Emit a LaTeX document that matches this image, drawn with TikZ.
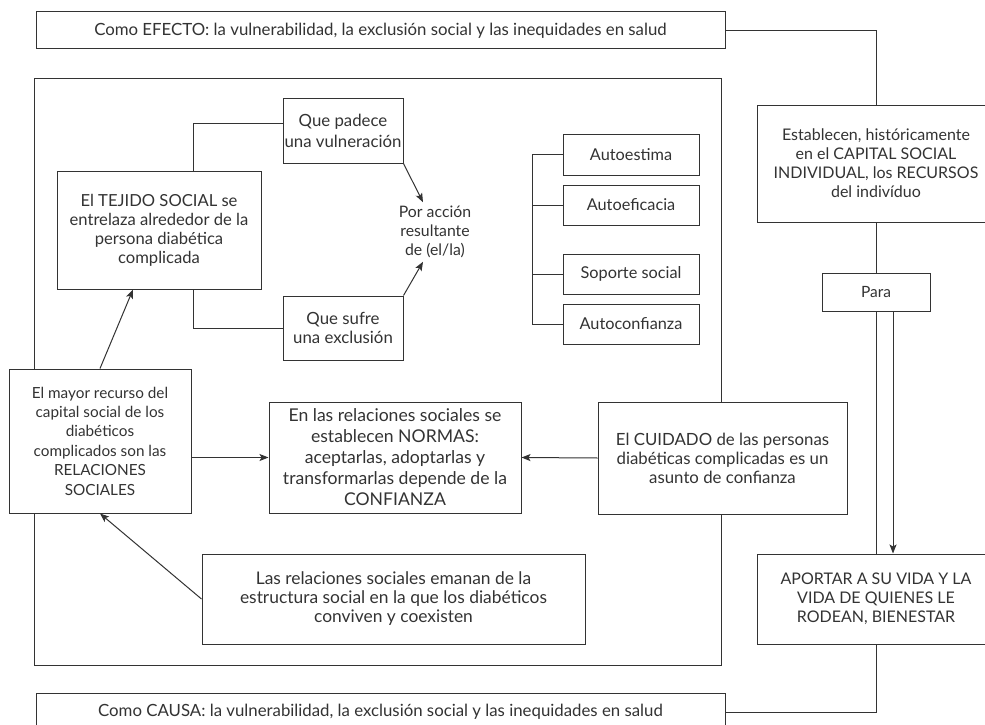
\documentclass[tikz,border=0pt]{standalone}
\usepackage{fontspec}
\setmainfont{Lato}
\usetikzlibrary{arrows.meta}
\newcommand{\letra}[1]{\fontsize{#1}{19}\selectfont}

\begin{document}
\begin{tikzpicture}[x = 1pt, y = -1pt, line width = 1pt, color = black!80, every node/.style = {font = \letra{16.8}}, caja/.style = {draw, fill = white, align = center, inner sep = 0pt}, flecha/.style = {-{Stealth[length = 9pt, width = 7pt, inset = 2pt]}}]
	\useasboundingbox (0, 0) rectangle (985, 725);
	\node (marco) at (377.5, 371.5) [caja, minimum width = 687, minimum height = 587] {};

	\node (efecto) at (380.5, 30.5) [caja, minimum width = 689, minimum height = 37] {Como EFECTO: la vulnerabilidad, la exclusión social y las inequidades en salud};
	\node (causa) at (380.5, 712) [caja, minimum width = 689, minimum height = 38] {Como CAUSA: la vulnerabilidad, la exclusión social y las inequidades en salud};
	\node (establecen) at (876, 163.5) [caja, font = \letra{16}, minimum width = 238, minimum height = 117] {Establecen, históricamente \\ en el CAPITAL SOCIAL \\ INDIVIDUAL, los RECURSOS \\ del indivíduo};
	\node (para) at (876, 292) [caja, font = \letra{15.5}, minimum width = 108, minimum height = 38] {Para};
	\node (aportar) at (876, 599) [caja, font = \letra{16}, minimum width = 238, minimum height = 90] {APORTAR A SU VIDA Y LA \\ VIDA DE QUIENES LE \\ RODEAN, BIENESTAR};

	\node (tejido) at (159, 230) [caja, font = \letra{16.6}, minimum width = 204, minimum height = 118] {El TEJIDO SOCIAL se \\ entrelaza alrededor de la \\ persona diabética \\ complicada};
	\node (padece) at (343, 130.5) [caja, font = \fontsize{16.8}{21}\selectfont, minimum width = 120, minimum height = 65] {Que padece \\ una vulneración};
	\node (sufre) at (343, 328) [caja, minimum width = 120, minimum height = 64] {Que sufre \\ una exclusión};
	\node (accion) at (435, 232) [align = center, font = \letra{15.8}] {Por acción \\ resultante \\ de (el/la)};

	\node (autoestima) at (631, 154.5) [caja, font = \letra{16.3}, minimum width = 136, minimum height = 41] {Autoestima};
	\node (autoeficacia) at (631, 205) [caja, font = \letra{16.3}, minimum width = 136, minimum height = 40] {Autoeficacia};
	\node (soporte) at (631, 274) [caja, font = \letra{16.3}, minimum width = 136, minimum height = 40] {Soporte social};
	\node (autoconfianza) at (631, 324) [caja, font = \letra{16.3}, minimum width = 136, minimum height = 40] {Autoconfianza};

	\node (mayor) at (100, 441) [caja, font = \fontsize{15.3}{19.4}\selectfont, minimum width = 182, minimum height = 144] {El mayor recurso del \\ capital social de los \\ diabéticos \\ complicados son las \\ RELACIONES \\ SOCIALES};
	\node (normas) at (395, 457.5) [caja, font = \fontsize{17.6}{21}\selectfont, minimum width = 252, minimum height = 111] {En las relaciones sociales se \\ establecen NORMAS: \\ aceptarlas, adoptarlas y \\ transformarlas depende de la \\ CONFIANZA};
	\node (cuidado) at (722.5, 458) [caja, minimum width = 249, minimum height = 112] {El CUIDADO de las personas \\ diabéticas complicadas es un \\ asunto de confianza};
	\node (relaciones) at (393.5, 599) [caja, font = \letra{17.4}, minimum width = 383, minimum height = 90] {Las relaciones sociales emanan de la \\ estructura social en la que los diabéticos \\ conviven y coexisten};

	% conectores
	\draw (efecto.east) -| (establecen.north);
	\draw (establecen.south) -- (para.north);
	\draw (para.south) -- (aportar.north);
	\draw [flecha] ([xshift = 17pt]para.south) -- ([xshift = 17pt]aportar.north);
	\draw (aportar.south) |- (causa.east);

	\draw ([xshift = 34pt]tejido.north) |- ([yshift = 7.5pt]padece.west);
	\draw ([xshift = 34pt]tejido.south) |- (sufre.west);
	\draw (autoestima.west) -- ++(-30, 0) |- (autoconfianza.west);
	\foreach \caja in {autoeficacia, soporte}
		\draw (\caja.west) -- ++(-30, 0);

	\foreach \desde/\hacia in {relaciones.west/mayor.south, cuidado.west/normas.east}
		\draw [flecha] (\desde) -- (\hacia);
	\draw [flecha] (padece.south east) -- ([xshift = -12pt]accion.north);
	\draw [flecha] (sufre.north east) -- ([xshift = -12pt]accion.south);
	\draw [flecha] (mayor.north) -- ([xshift = -26pt]tejido.south);
	\draw [flecha] (mayor.east |- normas.west) -- (normas.west);
\end{tikzpicture}
\end{document}
